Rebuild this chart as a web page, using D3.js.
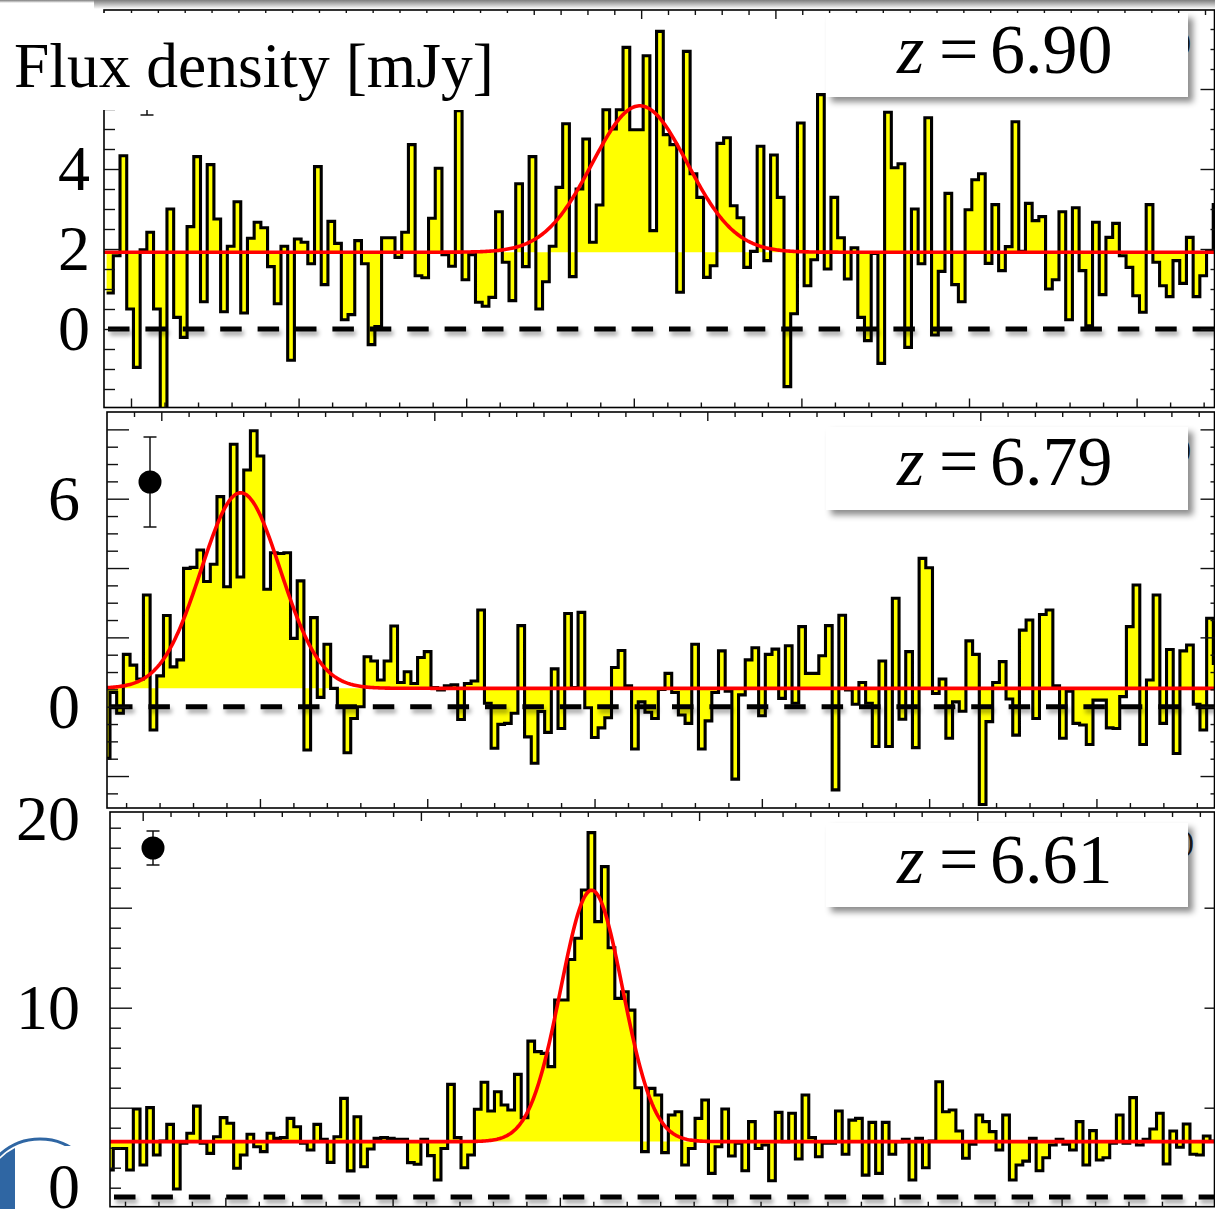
<!DOCTYPE html>
<html>
<head>
<meta charset="utf-8">
<title>CO line spectra</title>
<script src="https://cdn.jsdelivr.net/npm/d3@7/dist/d3.min.js"></script>
<style>
  html, body { margin: 0; padding: 0; background: #fff; }
  svg { display: block; }
</style>
</head>
<body>
<svg id="chart" width="1215" height="1209"></svg>
<script>
// ---------- spectra: flux density per channel [mJy] ----------
const fluxA = [
  0.9, 1.83, 4.33, 0.5, -0.96, 1.98, 2.42, 0.5, -2.3, 3.0,
  0.29, -0.21, 2.56, 4.31, 0.68, 4.11, 2.75, 0.43, 2.07, 3.18,
  0.4, 2.27, 2.67, 2.53, 1.56, 0.63, 2.07, -0.78, 2.25, 2.17,
  1.63, 4.06, 1.11, 2.69, 2.14, 0.23, 0.36, 2.21, 1.63, -0.39,
  0.06, 2.28, 2.28, 1.79, 2.42, 4.61, 1.33, 1.28, 2.77, 4.02,
  1.86, 1.57, 5.46, 1.23, 1.86, 0.67, 0.57, 0.79, 2.93, 1.67,
  0.71, 3.63, 1.56, 4.31, 0.5, 1.18, 2.07, 3.54, 5.13, 1.31,
  3.5, 4.75, 2.17, 3.1, 5.48, 5.0, 5.48, 7.04, 4.98, 4.98,
  6.83, 2.46, 7.44, 4.86, 4.61, 0.92, 6.94, 3.88, 3.29, 1.29,
  1.58, 4.64, 4.78, 3.08, 2.78, 1.54, 1.94, 4.57, 1.71, 4.35,
  3.29, -1.44, 0.38, 5.15, 1.08, 1.73, 5.86, 1.5, 3.29, 2.28,
  1.25, 2.03, 0.29, -0.29, 1.89, -0.86, 5.42, 4.03, 4.13, -0.46,
  3.0, 1.63, 5.28, -0.15, 1.44, 3.39, 1.11, 0.68, 2.98, 3.73,
  3.88, 1.64, 3.11, 1.46, 2.06, 5.18, 1.94, 3.14, 2.71, 2.81,
  1.0, 1.23, 2.93, 0.23, 3.03, 1.46, 0.08, 2.67, 0.86, 2.29,
  2.64, 1.83, 1.54, 0.83, 0.42, 3.11, 1.67, 1.08, 0.81, 1.71,
  1.14, 2.29, 0.81, 1.33, 1.96, 3.11
];
const fluxB = [
  -1.49, 0.41, -0.19, 1.51, 1.2, 0.8, 3.22, -0.67, 0.89, 2.63,
  1.15, 1.35, 3.99, 4.02, 4.52, 3.61, 4.11, 6.06, 3.46, 7.57,
  3.74, 6.83, 7.96, 7.23, 3.39, 4.44, 4.42, 4.44, 1.97, 3.63,
  -1.25, 2.57, 0.27, 1.8, 0.53, 0.0, -1.33, -0.34, 0.0, 1.44,
  1.32, 0.77, 1.32, 2.33, 0.7, 1.01, 0.67, 1.42, 1.59, 0.55,
  0.48, 0.6, 0.63, -0.37, 0.67, 0.74, 2.79, 0.1, -1.2, -0.51,
  -0.48, -0.19, 2.34, -0.87, -1.63, -0.14, -0.74, 1.09, -0.63, 2.69,
  0.55, 2.72, -0.03, -0.89, -0.61, -0.32, 1.13, 1.62, 0.6, -1.22,
  0.14, -0.16, -0.34, 0.5, 0.96, 0.41, -0.24, -0.48, 1.8, -1.22,
  -0.41, 0.41, 1.61, 0.45, -2.09, 0.34, 1.35, 1.7, -0.26, 1.51,
  1.66, 0.24, 1.76, 0.1, 2.31, 0.96, 0.96, 1.47, 2.34, -2.4,
  2.64, 0.48, 0.07, 0.7, 0.1, -1.15, 1.32, -1.15, 3.13, -0.36,
  1.59, -1.18, 4.28, 4.01, 0.38, 0.8, -0.91, 0.14, -0.13, 1.9,
  1.51, -2.82, -0.43, 0.7, 1.3, 0.22, -0.82, 2.21, 2.5, -0.34,
  2.66, 2.79, 0.6, -0.91, 0.45, -0.48, -0.53, -1.09, 0.19, 0.19,
  -0.61, -0.63, 0.29, 2.31, 3.51, -1.09, 0.77, 3.22, -0.48, 1.65,
  -1.35, 1.61, 1.78, 0.07, -0.67, 2.55, 1.25
];
const fluxC = [
  1.43, 2.57, 2.57, 1.43, 4.66, 1.69, 4.73, 2.22, 2.96, 3.84,
  0.42, 2.84, 3.37, 4.81, 2.84, 2.31, 3.19, 4.2, 3.9, 1.52,
  2.22, 3.32, 2.66, 2.4, 3.37, 3.1, 3.14, 4.16, 3.72, 2.84,
  2.49, 3.84, 3.05, 1.83, 3.19, 5.22, 1.38, 4.25, 1.6, 2.54,
  3.1, 3.14, 3.1, 3.05, 3.05, 1.82, 1.73, 3.05, 2.19, 0.9,
  2.57, 5.96, 3.14, 1.55, 2.22, 4.64, 6.07, 4.55, 5.57, 4.87,
  4.6, 6.49, 4.2, 8.25, 7.69, 7.6, 6.9, 10.42, 10.42, 12.57,
  13.69, 16.24, 19.28, 14.57, 17.48, 13.19, 10.51, 10.86, 9.89, 5.78,
  2.4, 5.75, 5.4, 2.35, 4.34, 4.51, 1.69, 2.57, 4.16, 5.13,
  1.25, 2.66, 4.66, 2.17, 2.84, 1.39, 3.99, 2.57, 2.75, 0.86,
  4.48, 2.93, 4.43, 2.01, 5.4, 3.14, 2.13, 2.84, 2.84, 4.55,
  2.26, 4.07, 4.16, 1.16, 3.95, 1.25, 3.95, 2.26, 2.93, 3.05,
  0.9, 3.1, 1.55, 2.96, 6.1, 4.51, 4.6, 3.49, 2.05, 2.79,
  4.34, 3.99, 3.46, 2.49, 4.34, 0.9, 1.69, 1.9, 3.1, 1.39,
  2.08, 2.75, 3.05, 2.79, 2.49, 3.99, 1.69, 3.51, 1.96, 2.08,
  2.84, 4.34, 2.84, 5.26, 2.75, 3.05, 3.6, 4.43, 1.75, 3.49,
  2.63, 3.86, 2.26, 2.22, 3.23, 2.96
];

// ---------- Gaussian line fits ----------
const continuum  = [1.92, 0.53, 2.93];   // mJy
const linePeak   = [3.66, 5.64, 13.3];   // mJy above continuum
const lineCentre = [79.5, 20.55, 72.54]; // channel
const lineSigma  = [7.1, 5.92, 4.64];    // channels

// ---------- labels ----------
const redshifts   = ['6.90', '6.79', '6.61'];
const tickLabelsA = [0, 2, 4];
const tickLabelsB = [0, 6];
const tickLabelsC = [0, 10, 20];
const yTitle = 'Flux density [mJy]';

// ---------- page layout ----------
const SERIF = '"Liberation Serif", "Times New Roman", Times, serif';
const svg = d3.select('#chart');
const defs = svg.append('defs');

function shadowFilter(id, dx, dy, sd, op) {
  const f = defs.append('filter').attr('id', id).attr('filterUnits', 'userSpaceOnUse')
    .attr('x', 0).attr('y', 0).attr('width', 1215).attr('height', 1209);
  f.append('feDropShadow').attr('dx', dx).attr('dy', dy).attr('stdDeviation', sd)
    .attr('flood-color', '#000').attr('flood-opacity', op);
}
shadowFilter('boxShadow', 5, 5, 3, 0.45);
shadowFilter('lineShadow', 2, 4, 2, 0.35);

const topGrad = defs.append('linearGradient').attr('id', 'topShade')
  .attr('x1', 0).attr('y1', 0).attr('x2', 0).attr('y2', 1);
topGrad.append('stop').attr('offset', 0).attr('stop-color', '#7d7d7d');
topGrad.append('stop').attr('offset', 1).attr('stop-color', '#ffffff');

svg.append('rect').attr('width', 1215).attr('height', 1209).attr('fill', '#fff');
svg.append('rect').attr('x', 94).attr('y', 0).attr('width', 1121).attr('height', 9).attr('fill', 'url(#topShade)');
svg.append('rect').attr('x', 0).attr('y', 0).attr('width', 94).attr('height', 3).attr('fill', 'url(#topShade)');

// logo fragment at lower left (sits underneath the panels)
defs.append('clipPath').attr('id', 'logoClip').append('rect').attr('x', 0).attr('y', 1100).attr('width', 15).attr('height', 120);
svg.append('circle').attr('cx', 40).attr('cy', 1198).attr('r', 59).attr('fill', 'none')
  .attr('stroke', '#2f66a3').attr('stroke-width', 3);
svg.append('circle').attr('cx', 40).attr('cy', 1198).attr('r', 56).attr('fill', '#2f66a3')
  .attr('clip-path', 'url(#logoClip)');
svg.append('rect').attr('x', 15).attr('y', 1146).attr('width', 94).attr('height', 63).attr('fill', '#fff');

const layout = [
  {
    flux: fluxA, labels: tickLabelsA,
    frame: { l: 104, t: 10, r: 1214.5, b: 407.5 },
    xStart: 106.6, binW: 6.707,
    y: d3.scaleLinear().domain([0, 4]).range([329, 169]),
    yStep: 0.5, yMajorStep: 2, leftMinor: 11, leftMajor: 16, rightMinor: 4, rightMajor: 14,
    top: { start: 131, step: 26.85, majorMod: 5, majorRem: 4 },
    bot: { start: 131, step: 33.52, majorMod: 5, majorRem: 0 },
    labelX: 90, labelShift: {},
    box: { x: 826, y: 13, w: 362, h: 84, base: 73 },
    marker: { x: 147, y: 70, lo: 25, hi: 115, r: 11.5 },
    paren: { x: 1181, y: 51 }
  },
  {
    flux: fluxB, labels: tickLabelsB,
    frame: { l: 107, t: 412, r: 1214.5, b: 808 },
    xStart: 103.3, binW: 6.687,
    y: d3.scaleLinear().domain([0, 6]).range([706.7, 498.7]),
    yStep: 0.5, yMajorStep: 2, leftMinor: 11, leftMajor: 22, rightMinor: 4, rightMajor: 14,
    top: { start: 134, step: 27.3, majorMod: 10, majorRem: 1 },
    bot: { start: 126.1, step: 33.46, majorMod: 5, majorRem: 4 },
    labelX: 80, labelShift: {},
    box: { x: 826, y: 427, w: 362, h: 83, base: 485 },
    marker: { x: 150, y: 482, lo: 437, hi: 527, r: 11.5 },
    paren: { x: 1181, y: 458 }
  },
  {
    flux: fluxC, labels: tickLabelsC,
    frame: { l: 110, t: 812, r: 1214.5, b: 1206.7 },
    xStart: 106.58, binW: 6.6875,
    y: d3.scaleLinear().domain([0, 20]).range([1197, 819]),
    tickY: d3.scaleLinear().domain([0, 20]).range([1207.7, 807.7]),
    yStep: 1, yMajorStep: 5, leftMinor: 11, leftMajor: 22, rightMinor: 0, rightMajor: 10,
    top: { start: 142.7, step: 27.82, majorMod: 10, majorRem: 0 },
    bot: { start: 125, step: 33.45, majorMod: 5, majorRem: 3 },
    labelX: 80, labelShift: { 0: -10 },
    box: { x: 826, y: 823, w: 362, h: 84, base: 883 },
    marker: { x: 153, y: 848, lo: 831, hi: 865, r: 11.5 },
    paren: { x: 1184, y: 851 }
  }
];

function tickAxis(parent, axisFn, scale, values, size, tx, ty) {
  if (!values.length || size <= 0) return;
  parent.append('g').attr('transform', `translate(${tx},${ty})`)
    .call(axisFn(scale).tickValues(values).tickSize(size).tickFormat(''))
    .call(s => s.select('.domain').remove())
    .call(s => s.selectAll('.tick line').attr('stroke', '#111').attr('stroke-width', 1.4));
}

layout.forEach((p, idx) => {
  const f = p.frame;
  const n = p.flux.length;
  const x = d3.scaleLinear().domain([0, n]).range([p.xStart, p.xStart + n * p.binW]);
  const y = p.y;
  const cont = continuum[idx], amp = linePeak[idx], mu = lineCentre[idx], sig = lineSigma[idx];
  const g = svg.append('g').attr('class', 'panel');

  defs.append('clipPath').attr('id', 'clip' + idx).append('rect')
    .attr('x', f.l).attr('y', f.t).attr('width', f.r - f.l).attr('height', f.b - f.t);
  const plot = g.append('g').attr('clip-path', `url(#clip${idx})`);

  // histogram vertices: each channel contributes its two bin edges
  const steps = p.flux.flatMap((v, i) => [{ c: i, v }, { c: i + 1, v }]);

  plot.append('path').datum(steps).attr('fill', '#ffff00')
    .attr('d', d3.area().x(d => x(d.c)).y0(y(cont)).y1(d => y(d.v)));
  plot.append('path').datum(steps).attr('fill', 'none').attr('stroke', '#000')
    .attr('stroke-width', 3.1).attr('stroke-linejoin', 'miter')
    .attr('d', d3.line().x(d => x(d.c)).y(d => y(d.v)));

  // zero level
  plot.append('line').attr('x1', f.l + 4).attr('x2', f.r).attr('y1', y(0)).attr('y2', y(0))
    .attr('stroke', '#000').attr('stroke-width', 5).attr('stroke-dasharray', '21.5 15.9')
    .attr('filter', 'url(#lineShadow)');

  // fitted Gaussian on top of the continuum
  const model = d3.range(-2, n + 2.01, 0.2)
    .map(c => ({ c, v: cont + amp * Math.exp(-0.5 * ((c - mu) / sig) ** 2) }));
  plot.append('path').datum(model).attr('fill', 'none').attr('stroke', '#ff0000')
    .attr('stroke-width', 3.6).attr('d', d3.line().x(d => x(d.c)).y(d => y(d.v)));

  // frame
  g.append('rect').attr('x', f.l).attr('y', f.t).attr('width', f.r - f.l).attr('height', f.b - f.t)
    .attr('fill', 'none').attr('stroke', '#000').attr('stroke-width', 1.6);

  // y ticks (left and right)
  const ty = p.tickY || y;
  const [v0, v1] = [ty.invert(f.b), ty.invert(f.t)];
  const all = d3.range(Math.ceil(v0 / p.yStep) * p.yStep, v1 + 1e-6, p.yStep)
    .filter(v => ty(v) > f.t + 1 && ty(v) < f.b - 1);
  const isMajor = v => Math.abs(v / p.yMajorStep - Math.round(v / p.yMajorStep)) < 1e-6;
  const minors = all.filter(v => !isMajor(v)), majors = all.filter(isMajor);
  tickAxis(g, d3.axisRight, ty, minors, p.leftMinor, f.l, 0);
  tickAxis(g, d3.axisRight, ty, majors, p.leftMajor, f.l, 0);
  tickAxis(g, d3.axisLeft, ty, minors, p.rightMinor, f.r, 0);
  tickAxis(g, d3.axisLeft, ty, majors, p.rightMajor, f.r, 0);

  // x ticks (top and bottom edges)
  [['top', d3.axisBottom, f.t], ['bot', d3.axisTop, f.b]].forEach(([key, fn, yPos]) => {
    const s = p[key];
    const sc = d3.scaleLinear().domain([0, 1]).range([s.start, s.start + s.step]);
    const idxs = d3.range(0, 60).filter(i => sc(i) > f.l + 1 && sc(i) < f.r - 1);
    tickAxis(g, fn, sc, idxs.filter(i => i % s.majorMod !== s.majorRem), 5, 0, yPos);
    tickAxis(g, fn, sc, idxs.filter(i => i % s.majorMod === s.majorRem), 9, 0, yPos);
  });

  // y tick labels
  const lab = g.append('g').attr('transform', `translate(${p.labelX},0)`)
    .call(d3.axisLeft(y).tickValues(p.labels).tickSize(0).tickPadding(0).tickFormat(d3.format('d')));
  lab.select('.domain').remove();
  lab.attr('font-family', SERIF).attr('font-size', 64);
  lab.selectAll('text').attr('fill', '#000')
    .attr('y', d => p.labelShift[d] || 0);

  // representative error bar
  const m = p.marker;
  const eb = g.append('g').attr('stroke', '#111').attr('stroke-width', 1.5);
  eb.append('line').attr('x1', m.x).attr('x2', m.x).attr('y1', m.lo).attr('y2', m.hi);
  eb.append('line').attr('x1', m.x - 6.5).attr('x2', m.x + 6.5).attr('y1', m.lo).attr('y2', m.lo);
  eb.append('line').attr('x1', m.x - 6.5).attr('x2', m.x + 6.5).attr('y1', m.hi).attr('y2', m.hi);
  g.append('circle').attr('cx', m.x).attr('cy', m.y).attr('r', m.r).attr('fill', '#000');

  // partly hidden panel tag and redshift box
  g.append('text').attr('x', p.paren.x).attr('y', p.paren.y).attr('font-family', SERIF)
    .attr('font-size', 30).attr('fill', '#222').text(')');
  const b = p.box;
  g.append('rect').attr('x', b.x).attr('y', b.y).attr('width', b.w).attr('height', b.h)
    .attr('fill', '#fff').attr('filter', 'url(#boxShadow)');
  const t = g.append('g').attr('font-family', SERIF).attr('font-size', 70).attr('fill', '#000');
  t.append('text').attr('x', 897).attr('y', b.base).attr('font-style', 'italic').text('z');
  t.append('text').attr('x', 939).attr('y', b.base).text('=');
  t.append('text').attr('x', 990).attr('y', b.base).text(redshifts[idx]);
});

// axis title on its own white patch
svg.append('rect').attr('x', 0).attr('y', 13).attr('width', 526).attr('height', 97).attr('fill', '#fff');
svg.append('text').attr('x', 14).attr('y', 87).attr('font-family', SERIF).attr('font-size', 63.5)
  .attr('fill', '#000').text(yTitle);
</script>
</body>
</html>
